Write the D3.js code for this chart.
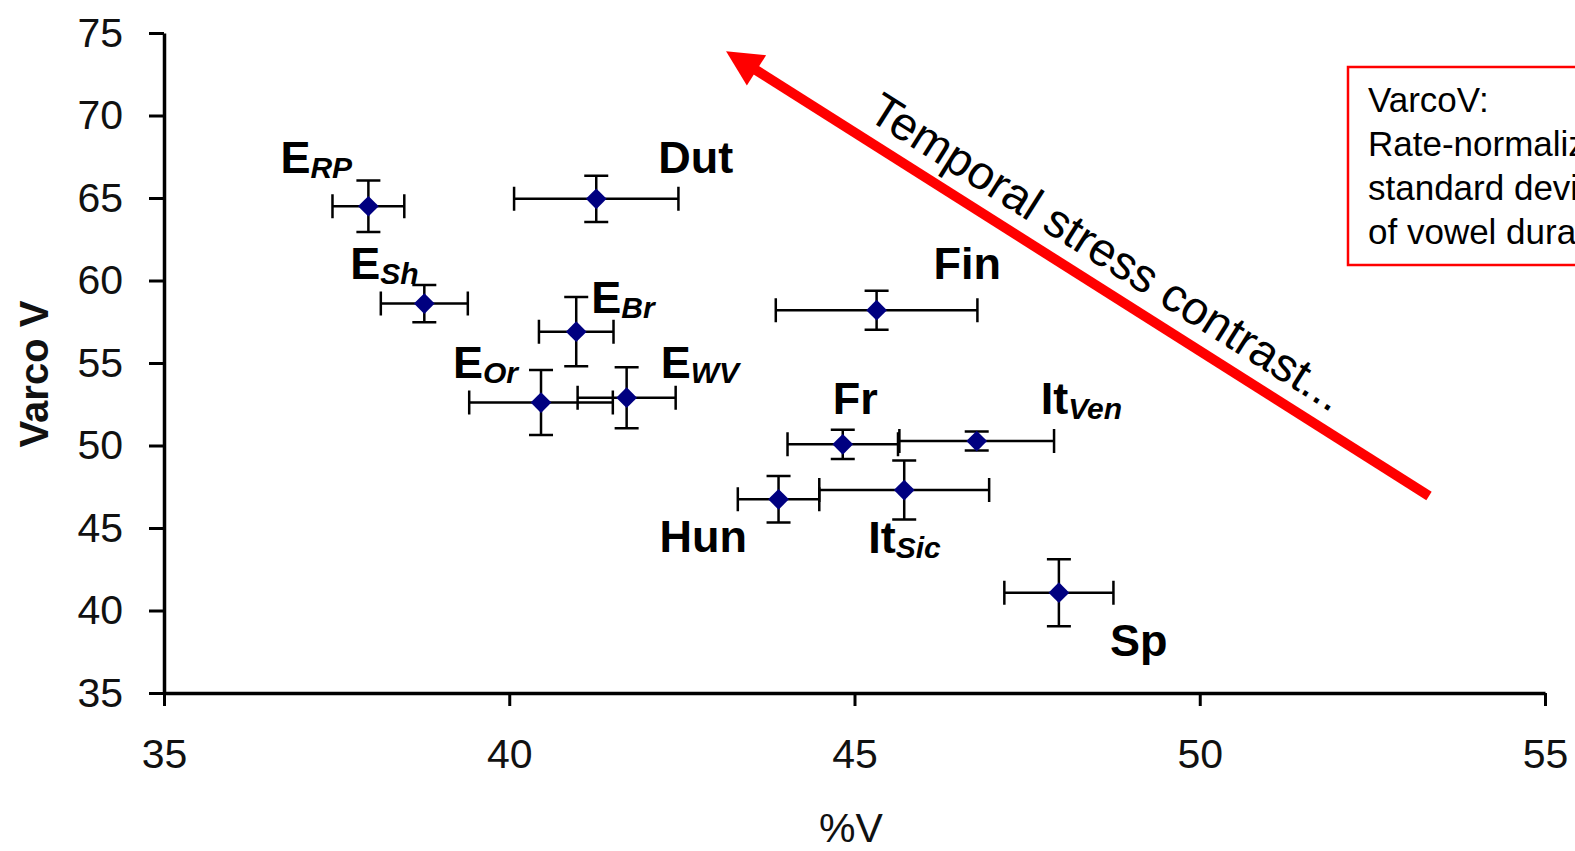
<!DOCTYPE html>
<html><head><meta charset="utf-8">
<script src="https://cdn.jsdelivr.net/npm/d3@7"></script>
<style>
body{margin:0;background:#fff;overflow:hidden}
svg{display:block;font-family:"Liberation Sans",Arial,sans-serif}
</style>
</head><body>
<svg id="chart" width="1575" height="851"></svg>
<script>
// ---- data ----
const languages   = ["E","Dut","E","E","E","E","Fin","Fr","It","Hun","It","Sp"];
const subscripts  = ["RP","","Sh","Br","Or","WV","","","Ven","","Sic",""];
const percentV    = [37.96,41.26,38.77,40.97,40.46,41.70,45.32,44.83,46.77,43.90,45.72,47.96];
const varcoV      = [64.5,64.95,58.6,56.9,52.6,52.9,58.2,50.07,50.27,46.74,47.3,41.08];
const percentVErr = [0.52,1.19,0.63,0.54,1.04,0.71,1.46,0.80,1.12,0.59,1.23,0.79];
const varcoVErr   = [1.56,1.40,1.13,2.10,1.97,1.85,1.18,0.89,0.58,1.41,1.79,2.03];
const xTicks = [35,40,45,50,55];
const yTicks = [35,40,45,50,55,60,65,70,75];
const xTitle = "%V";
const yTitle = "Varco V";
const arrowText = "Temporal stress contrast...";
const noteLines = ["VarcoV:","Rate-normalized","standard deviation","of vowel duration"];
// arrow annotation in data units (tail -> head)
const arrowTail = [53.32, 46.94];
const arrowHead = [43.14, 73.9];

// ---- layout ----
const labelDx = [-88,62,-74,15,-88,34,57,-10,64,-119,-36,51];
const labelDy = [-33,-26,-25,-19,-25,-20,-31,-30,-27,53,63,63];

const svg = d3.select("#chart");
const x = d3.scaleLinear().domain([35,55]).range([164,1545]);
const y = d3.scaleLinear().domain([35,75]).range([693,33]);

const data = languages.map((l,i)=>({l, sub:subscripts[i], x:percentV[i], y:varcoV[i], ex:percentVErr[i], ey:varcoVErr[i], dx:labelDx[i], dy:labelDy[i]}));

// axes
const yAxis = d3.axisLeft(y).tickValues(yTicks).tickSize(15).tickSizeOuter(0).tickPadding(26).tickFormat(d3.format("d"));
const xAxis = d3.axisBottom(x).tickValues(xTicks).tickSize(13).tickSizeOuter(0).tickPadding(33).tickFormat(d3.format("d"));

const gy = svg.append("g").attr("transform","translate(164,0)").call(yAxis);
const gx = svg.append("g").attr("transform","translate(0,693)").call(xAxis);
[gy,gx].forEach(g=>{
  g.select(".domain").attr("stroke","#000").attr("stroke-width",3.5);
  g.selectAll(".tick line").attr("stroke","#000").attr("stroke-width",3);
  g.selectAll(".tick text").attr("fill","#111").style("font-size","41px").style("font-family","'Liberation Sans',Arial,sans-serif");
});

// axis titles
svg.append("text").attr("x",851).attr("y",842).attr("text-anchor","middle")
  .style("font-size","41px").attr("fill","#111").text(xTitle);
svg.append("text").attr("transform","translate(48,374) rotate(-90)").attr("text-anchor","middle")
  .style("font-size","40px").style("font-weight","bold").attr("fill","#111").text(yTitle);

// error bars
const cap = 12;
const eb = svg.append("g").attr("stroke","#000").attr("stroke-width",2.5).attr("fill","none");
data.forEach(d=>{
  const cx=x(d.x), cy=y(d.y), x0=x(d.x-d.ex), x1=x(d.x+d.ex), y0=y(d.y-d.ey), y1=y(d.y+d.ey);
  eb.append("path").attr("d",`M${x0},${cy}H${x1}M${x0},${cy-cap}V${cy+cap}M${x1},${cy-cap}V${cy+cap}`);
  eb.append("path").attr("d",`M${cx},${y0}V${y1}M${cx-cap},${y0}H${cx+cap}M${cx-cap},${y1}H${cx+cap}`);
});

// diamonds
svg.append("g").selectAll("path").data(data).join("path")
  .attr("d",d3.symbol(d3.symbolSquare,215))
  .attr("transform",d=>`translate(${x(d.x)},${y(d.y)}) rotate(45)`)
  .attr("fill","#000080");

// labels
const lab = svg.append("g").selectAll("text").data(data).join("text")
  .attr("x",d=>x(d.x)+d.dx).attr("y",d=>y(d.y)+d.dy)
  .style("font-size","45px").style("font-weight","bold").attr("fill","#000");
lab.append("tspan").text(d=>d.l);
lab.filter(d=>d.sub).append("tspan").attr("dy",5).style("font-size","30px").style("font-style","italic").text(d=>d.sub);

// arrow
const hx=x(arrowHead[0]), hy=y(arrowHead[1]), tx=x(arrowTail[0]), ty=y(arrowTail[1]);
const len=Math.hypot(hx-tx,hy-ty), ux=(tx-hx)/len, uy=(ty-hy)/len; // from head toward tail
const nx=uy, ny=-ux; // normal (up-right)
const L=36, W=18;
svg.append("line").attr("x1",tx).attr("y1",ty).attr("x2",hx+ux*(L-4)).attr("y2",hy+uy*(L-4))
  .attr("stroke","#ff0000").attr("stroke-width",10);
svg.append("path").attr("fill","#ff0000")
  .attr("d",`M${hx},${hy}L${hx+ux*L+nx*W},${hy+uy*L+ny*W}L${hx+ux*L-nx*W},${hy+uy*L-ny*W}Z`);
const ang=Math.atan2(ty-hy,tx-hx)*180/Math.PI;
const sx=hx+ux*154+nx*18, sy=hy+uy*154+ny*18;
svg.append("text").attr("transform",`translate(${sx},${sy}) rotate(${ang})`)
  .style("font-size","47px").attr("fill","#000").text(arrowText);

// note box (runs off the right edge, as in the original slide)
svg.append("rect").attr("x",1348).attr("y",67).attr("width",300).attr("height",198)
  .attr("fill","#fff").attr("stroke","#ff0000").attr("stroke-width",2.5);
svg.append("g").selectAll("text").data(noteLines).join("text")
  .attr("x",1368).attr("y",(d,i)=>112+i*44).style("font-size","35px").attr("fill","#000").text(d=>d);
</script>
</body></html>
